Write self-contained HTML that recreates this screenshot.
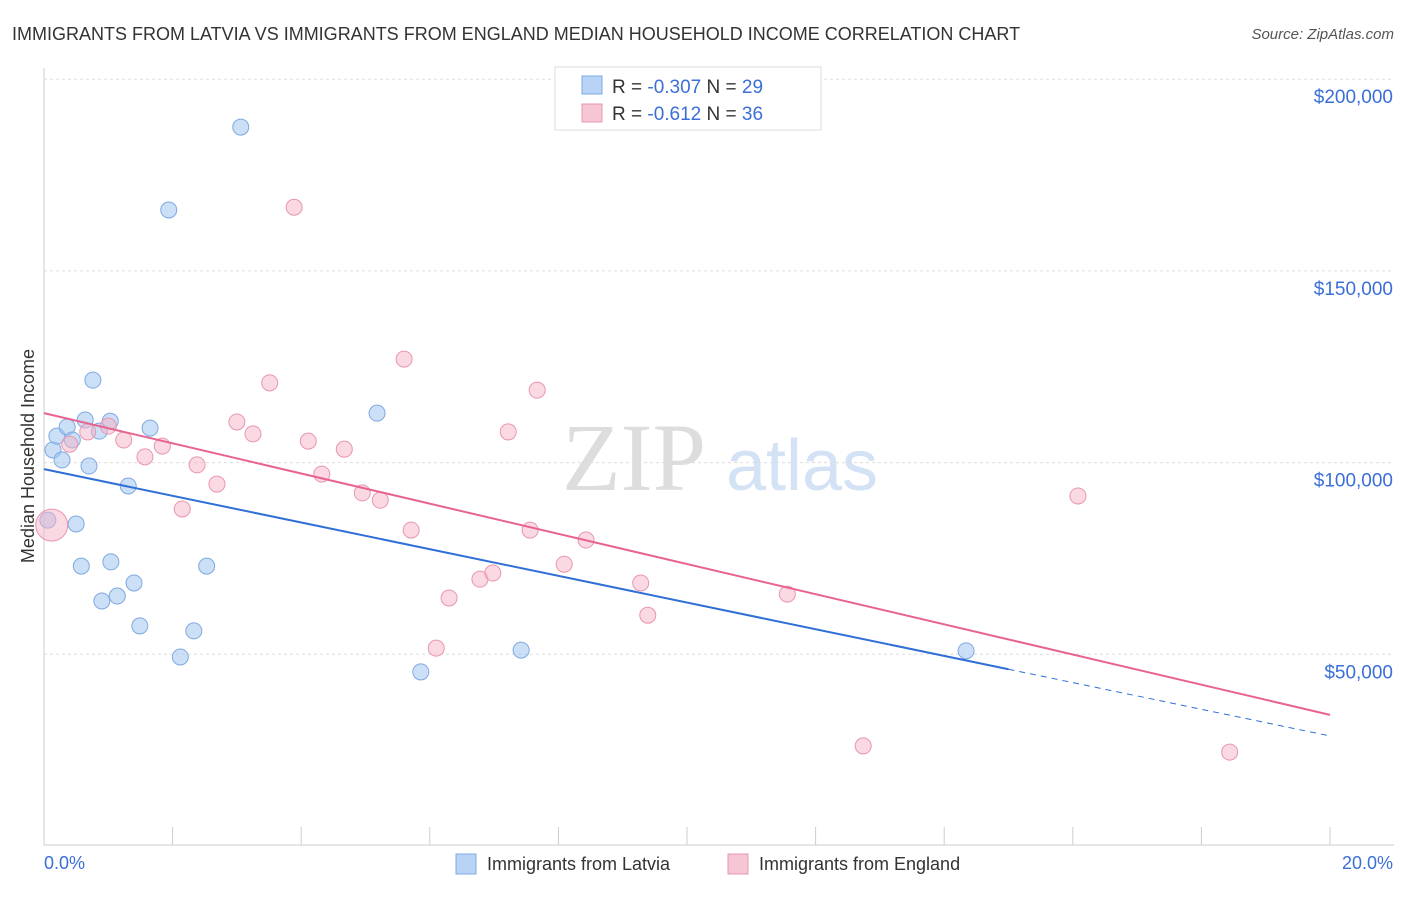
<!DOCTYPE html>
<html><head><meta charset="utf-8"><style>
body{margin:0;background:#fff;font-family:"Liberation Sans",sans-serif}
</style></head><body>
<svg id="c" width="1406" height="892" xmlns="http://www.w3.org/2000/svg" font-family="Liberation Sans, sans-serif">
<text x="12" y="40" font-size="18" fill="#333">IMMIGRANTS FROM LATVIA VS IMMIGRANTS FROM ENGLAND MEDIAN HOUSEHOLD INCOME CORRELATION CHART</text>
<text x="1394" y="39" font-size="15" fill="#555" text-anchor="end" font-style="italic">Source: ZipAtlas.com</text>
<g><text x="634" y="490" font-size="96" fill="#ddd" text-anchor="middle" font-family="Liberation Serif, serif">ZIP</text><text x="802" y="490" font-size="72" fill="#d4e2f5" text-anchor="middle">atlas</text></g>
<g id="grid"></g><g id="axes"></g><g id="marks"></g>
<text transform="translate(34,456) rotate(-90)" font-size="18" fill="#333" text-anchor="middle">Median Household Income</text>
<text x="44" y="869" font-size="18" fill="#3a6fd8">0.0%</text>
<text x="1393" y="869" font-size="18" fill="#3a6fd8" text-anchor="end">20.0%</text>
<g>
<rect x="555" y="67" width="266" height="63" fill="#fff" stroke="#ddd"/>
<rect x="582" y="76" width="20" height="18" fill="#b8d3f5" stroke="#7fa9e0"/>
<rect x="582" y="104" width="20" height="18" fill="#f7c6d4" stroke="#e896b0"/>
<text x="612" y="93" font-size="19" fill="#333">R = <tspan fill="#3a6fd8">-0.307</tspan>   N = <tspan fill="#3a6fd8">29</tspan></text>
<text x="612" y="120" font-size="19" fill="#333">R =  <tspan fill="#3a6fd8">-0.612</tspan>   N = <tspan fill="#3a6fd8">36</tspan></text>
</g>
<g>
<rect x="456" y="854" width="20" height="20" fill="#b8d3f5" stroke="#7fa9e0"/>
<text x="487" y="870" font-size="18" fill="#333">Immigrants from Latvia</text>
<rect x="728" y="854" width="20" height="20" fill="#f7c6d4" stroke="#e896b0"/>
<text x="759" y="870" font-size="18" fill="#333">Immigrants from England</text>
</g>
</svg>
<script>
const yTicks=[50000,100000,150000,200000];
const yTickLabels=["$50,000","$100,000","$150,000","$200,000"];
const xTicks=[0,2,4,6,8,10,12,14,16,18,20];
const latviaX=[0.06,0.14,0.2,0.28,0.36,0.44,0.5,0.58,0.64,0.7,0.76,0.86,0.9,1.03,1.04,1.14,1.31,1.4,1.49,1.65,1.94,2.12,2.33,2.53,3.06,5.18,5.86,7.42,14.34];
const latviaY=[85000,103300,106900,100700,109300,105900,84000,73000,111100,99100,121500,108200,63900,110800,74100,65200,93900,68600,57400,109000,165900,49300,56100,73000,187500,112900,45400,51100,50900];
const englandX=[0.12,0.4,0.68,1.0,1.24,1.57,1.84,2.15,2.38,2.69,3.0,3.25,3.51,3.89,4.11,4.32,4.67,4.95,5.23,5.6,5.71,6.1,6.3,6.78,6.98,7.22,7.56,7.67,8.09,8.43,9.28,9.39,11.56,12.74,16.08,18.44];
const englandY=[83700,104800,108000,109500,105900,101500,104300,87900,99400,94400,110600,107500,120800,166600,105600,97000,103500,92100,90200,127000,82400,51600,64700,69600,71200,108000,82400,118900,73500,79800,68600,60200,65700,26100,91300,24500];
const latviaTrend=[98300,28700];
const englandTrend=[112900,34200];
const sx=v=>44+v/20*1286;
const sy=v=>846-v/50000*191.7;
const NS="http://www.w3.org/2000/svg";
function mk(t,a,p){const e=document.createElementNS(NS,t);for(const k in a)e.setAttribute(k,a[k]);p.appendChild(e);return e;}
const grid=document.getElementById('grid'),axes=document.getElementById('axes'),marks=document.getElementById('marks');
yTicks.forEach((v,i)=>{
 const l=mk('line',{x1:44,x2:1394,y1:sy(v),y2:sy(v),stroke:'#ddd','stroke-dasharray':'3,3'},grid);
 
 
 const t=mk('text',{x:1393,y:sy(v)+24,'font-size':19,fill:'#3a6fd8','text-anchor':'end'},grid);
 t.textContent=yTickLabels[i];
 
 
});
const ax=mk('line',{x1:44,x2:1394,y1:845,y2:845,stroke:'#ccc'},axes);


const ay=mk('line',{x1:44,x2:44,y1:68,y2:845,stroke:'#ccc'},axes);


xTicks.forEach(v=>{
 const t=mk('line',{x1:sx(v),x2:sx(v),y1:827,y2:845,stroke:'#ccc'},axes);
 
 
});
latviaX.forEach((x,i)=>{
 const c=mk('circle',{cx:sx(x),cy:sy(latviaY[i]),r:8,fill:'rgba(160,196,240,0.55)',stroke:'#7fa9e0','stroke-width':1},marks);
 
 
});
englandX.forEach((x,i)=>{
 const c=mk('circle',{cx:sx(x),cy:sy(englandY[i]),r:i==0?16:8,fill:'rgba(245,180,200,0.5)',stroke:'#e896b0','stroke-width':1},marks);
 
 
});
const lt=v=>latviaTrend[0]+(latviaTrend[1]-latviaTrend[0])*v/20;
let l1=mk('line',{x1:sx(0),y1:sy(lt(0)),x2:sx(15),y2:sy(lt(15)),stroke:'#2f6fd6','stroke-width':2},marks);


let l2=mk('line',{x1:sx(15),y1:sy(lt(15)),x2:sx(20),y2:sy(lt(20)),stroke:'#2f6fd6','stroke-width':1,'stroke-dasharray':'6,5'},marks);


let l3=mk('line',{x1:sx(0),y1:sy(englandTrend[0]),x2:sx(20),y2:sy(englandTrend[1]),stroke:'#e8638f','stroke-width':2},marks);


</script>
</body></html>
